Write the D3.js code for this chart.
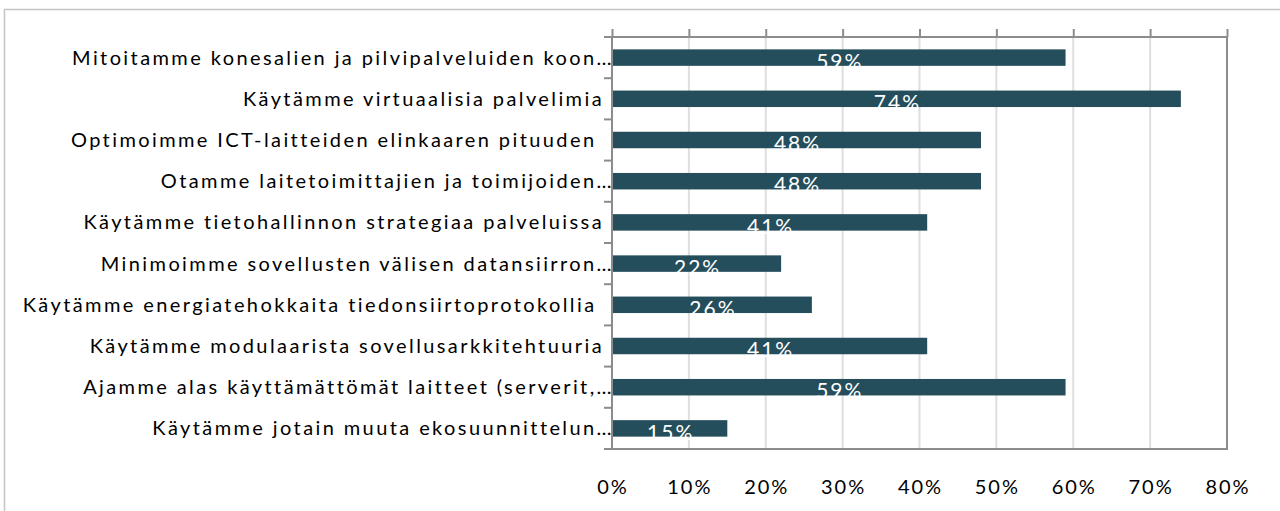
<!DOCTYPE html>
<html>
<head>
<meta charset="utf-8">
<script src="https://cdn.jsdelivr.net/npm/d3@7"></script>
<style>
  body { margin: 0; background: #fff; }
  svg text { font-family: Lato, "Open Sans", sans-serif; white-space: pre; }
</style>
</head>
<body>
<svg id="chart" width="1280" height="511"></svg>
<script>
// Chart data
const categories = [
  "Mitoitamme konesalien ja pilvipalveluiden koon…",
  "Käytämme virtuaalisia palvelimia",
  "Optimoimme ICT-laitteiden elinkaaren pituuden ",
  "Otamme laitetoimittajien ja toimijoiden…",
  "Käytämme tietohallinnon strategiaa palveluissa",
  "Minimoimme sovellusten välisen datansiirron…",
  "Käytämme energiatehokkaita tiedonsiirtoprotokollia ",
  "Käytämme modulaarista sovellusarkkitehtuuria",
  "Ajamme alas käyttämättömät laitteet (serverit,…",
  "Käytämme jotain muuta ekosuunnittelun…"
];
const values = [0.59, 0.74, 0.48, 0.48, 0.41, 0.22, 0.26, 0.41, 0.59, 0.15];
const tickValues = [0, 0.1, 0.2, 0.3, 0.4, 0.5, 0.6, 0.7, 0.8];

const svg = d3.select('#chart');
const plot = { left: 612, right: 1227, top: 37, bottom: 449 };
const fmt = d3.format('.0%');

const x = d3.scaleLinear().domain([0, 0.8]).range([plot.left, plot.right]);
const y = d3.scaleBand()
  .domain(categories)
  .range([plot.top, plot.bottom])
  .paddingInner(0.6)
  .paddingOuter(0.3);

// outer chart frame (runs off right and bottom edges)
svg.append('rect')
  .attr('x', 4.5).attr('y', 9.5)
  .attr('width', 1300).attr('height', 520)
  .attr('fill', 'none')
  .attr('stroke', '#c4c4c4')
  .attr('stroke-width', 1.5);

// gridlines
svg.append('g')
  .selectAll('line')
  .data(tickValues.slice(1, -1))
  .enter().append('line')
    .attr('x1', d => x(d)).attr('x2', d => x(d))
    .attr('y1', plot.top).attr('y2', plot.bottom)
    .attr('stroke', '#dedede')
    .attr('stroke-width', 2);

// bars
svg.append('g')
  .selectAll('rect')
  .data(values)
  .enter().append('rect')
    .attr('x', x(0))
    .attr('y', (d, i) => y(categories[i]))
    .attr('width', d => x(d) - x(0))
    .attr('height', y.bandwidth())
    .attr('fill', '#254e5c');

// value labels (white, sitting low in the bar, bottom part lost on white)
svg.append('g')
  .selectAll('text')
  .data(values)
  .enter().append('text')
    .attr('x', d => (x(0) + x(d)) / 2 + 1)
    .attr('y', (d, i) => y(categories[i]) + y.bandwidth() + 3)
    .attr('text-anchor', 'middle')
    .attr('fill', '#fff')
    .attr('font-size', 21)
    .attr('letter-spacing', 2)
    .text(d => fmt(d));

// plot border
svg.append('rect')
  .attr('x', plot.left).attr('y', plot.top)
  .attr('width', plot.right - plot.left)
  .attr('height', plot.bottom - plot.top)
  .attr('fill', 'none')
  .attr('stroke', '#8c8c8c')
  .attr('stroke-width', 2);

// top tick marks
svg.append('g')
  .call(d3.axisTop(x).tickValues(tickValues).tickSize(8).tickFormat(''))
  .attr('transform', `translate(0,${plot.top})`)
  .call(g => g.select('.domain').remove())
  .call(g => g.selectAll('line').attr('stroke', '#8c8c8c').attr('stroke-width', 2));

// left tick marks at category boundaries
const bounds = d3.range(categories.length + 1).map(i => plot.top + i * y.step());
svg.append('g')
  .selectAll('line')
  .data(bounds)
  .enter().append('line')
    .attr('x1', plot.left - 8).attr('x2', plot.left)
    .attr('y1', d => d).attr('y2', d => d)
    .attr('stroke', '#8c8c8c')
    .attr('stroke-width', 2);

// category labels
svg.append('g')
  .selectAll('text')
  .data(categories)
  .enter().append('text')
    .attr('x', d => d.endsWith('…') ? 614 : 604)
    .attr('y', d => y(d) + y.bandwidth() / 2)
    .attr('dy', '0.35em')
    .attr('text-anchor', 'end')
    .attr('font-size', 20)
    .attr('letter-spacing', 2.4)
    .attr('fill', '#000')
    .text(d => d);

// x tick labels
svg.append('g')
  .selectAll('text')
  .data(tickValues)
  .enter().append('text')
    .attr('x', d => x(d) + 1)
    .attr('y', 494)
    .attr('text-anchor', 'middle')
    .attr('font-size', 20)
    .attr('letter-spacing', 2)
    .attr('fill', '#000')
    .text(d => fmt(d));
</script>
</body>
</html>
